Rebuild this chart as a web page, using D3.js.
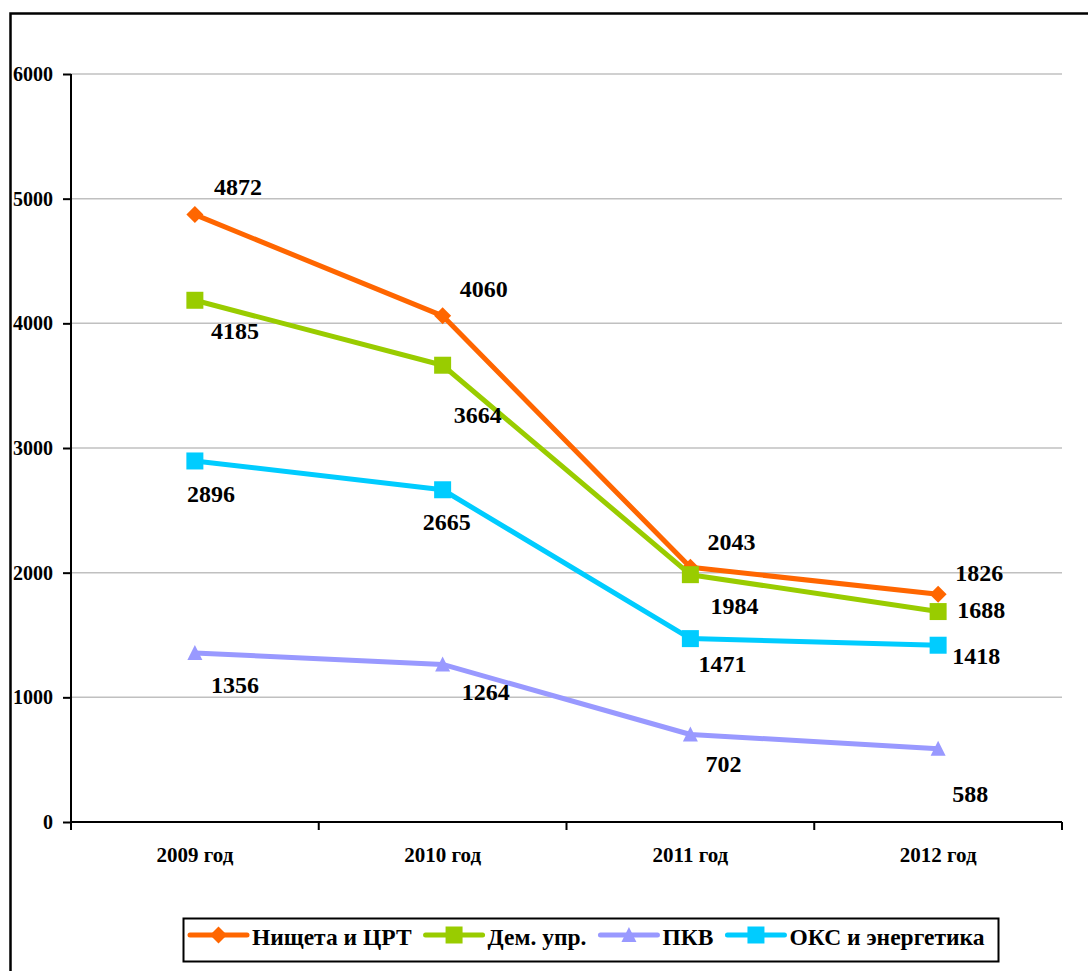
<!DOCTYPE html>
<html>
<head>
<meta charset="utf-8">
<script src="https://cdn.jsdelivr.net/npm/d3@7"></script>
<style>
  html, body { margin: 0; padding: 0; background: #fff; }
  svg { display: block; }
</style>
</head>
<body>
<div id="chart"></div>
<script>
// Data //
const years = ["2009 год", "2010 год", "2011 год", "2012 год"];
const poverty = [4872, 4060, 2043, 1826];   // Нищета и ЦРТ
const demGov = [4185, 3664, 1984, 1688];    // Дем. упр.
const pkv = [1356, 1264, 702, 588];         // ПКВ
const oks = [2896, 2665, 1471, 1418];       // ОКС и энергетика
const yTicks = [0, 1000, 2000, 3000, 4000, 5000, 6000];

const seriesNames = ["Нищета и ЦРТ", "Дем. упр.", "ПКВ", "ОКС и энергетика"];

// label nudges (px from the point), one per point
const labelNudge = {
    "Нищета и ЦРТ": [[43, -28], [41, -27], [41, -26], [41, -22]],
    "Дем. упр.": [[40, 30], [35, 49], [44, 31], [43, -2]],
    "ПКВ": [[40, 32], [43, 27], [33, 29], [32, 45]],
    "ОКС и энергетика": [[16, 33], [4, 32], [32, 25], [38, 10]]
};

const series = [
    { name: seriesNames[0], values: poverty, color: "#FF6600", marker: "diamond" },
    { name: seriesNames[1], values: demGov, color: "#99CC00", marker: "square" },
    { name: seriesNames[2], values: pkv, color: "#9999FF", marker: "triangle" },
    { name: seriesNames[3], values: oks, color: "#00CCFF", marker: "square" }
];

const FONT = "'Liberation Serif', 'Times New Roman', serif";

/* Canvas */
const W = 1088, H = 971;
const plot = { left: 71, right: 1062, top: 74, bottom: 822 };

const svg = d3.select("#chart").append("svg")
    .attr("width", W)
    .attr("height", H)
    .attr("font-family", FONT)
    .attr("font-weight", "bold");

// outer frame (runs off the right and bottom edge)
svg.append("rect")
    .attr("x", 10.5).attr("y", 13.5)
    .attr("width", 1100).attr("height", 1000)
    .attr("fill", "none")
    .attr("stroke", "#000")
    .attr("stroke-width", 2.5);

const xScale = d3.scaleBand()
    .domain(years)
    .range([plot.left, plot.right]);

const yScale = d3.scaleLinear()
    .domain([0, 6000])
    .range([plot.bottom, plot.top]);

const xc = d => xScale(d) + xScale.bandwidth() / 2;

/* Gridlines */
svg.append("g")
    .selectAll("line")
    .data(yTicks.filter(d => d > 0))
    .join("line")
    .attr("x1", plot.left).attr("x2", plot.right)
    .attr("y1", d => yScale(d)).attr("y2", d => yScale(d))
    .attr("stroke", "#C0C0C0")
    .attr("stroke-width", 1.5);

/* Vertical axis */
const yAxis = d3.axisLeft(yScale)
    .tickValues(yTicks)
    .tickSize(8)
    .tickPadding(10)
    .tickFormat(d3.format("d"));

const gy = svg.append("g")
    .attr("transform", `translate(${plot.left},0)`)
    .call(yAxis)
    .attr("font-family", FONT)
    .attr("font-size", 20);
gy.select(".domain").remove();
gy.selectAll(".tick line").attr("stroke", "#000").attr("stroke-width", 2);
gy.selectAll("text")
    .attr("font-family", FONT)
    .attr("font-weight", "bold")
    .attr("font-size", "20px")
    .attr("fill", "#000");

svg.append("line")
    .attr("x1", plot.left).attr("x2", plot.left)
    .attr("y1", plot.top).attr("y2", plot.bottom + 8)
    .attr("stroke", "#000").attr("stroke-width", 2);

/* Horizontal axis */
svg.append("line")
    .attr("x1", plot.left).attr("x2", plot.right)
    .attr("y1", plot.bottom).attr("y2", plot.bottom)
    .attr("stroke", "#000").attr("stroke-width", 2);

const bounds = years.map(d => xScale(d)).concat([plot.right]);
svg.append("g")
    .selectAll("line")
    .data(bounds)
    .join("line")
    .attr("x1", d => d).attr("x2", d => d)
    .attr("y1", plot.bottom).attr("y2", plot.bottom + 8)
    .attr("stroke", "#000").attr("stroke-width", 2);

svg.append("g")
    .selectAll("text")
    .data(years)
    .join("text")
    .attr("x", d => xc(d))
    .attr("y", 862)
    .attr("text-anchor", "middle")
    .attr("font-family", FONT)
    .attr("font-weight", "bold")
    .attr("font-size", "21px")
    .text(d => d);

/* Lines, markers */
const line = d3.line()
    .x((d, i) => xc(years[i]))
    .y(d => yScale(d));

function markerPath(type) {
    if (type === "diamond") return "M0,-8.5L8.5,0L0,8.5L-8.5,0Z";
    if (type === "square") return "M-8.5,-8.5H8.5V8.5H-8.5Z";
    return "M0,-8L7.5,7H-7.5Z";
}

series.forEach(s => {
    svg.append("path")
        .datum(s.values)
        .attr("d", line)
        .attr("fill", "none")
        .attr("stroke", s.color)
        .attr("stroke-width", 5)
        .attr("stroke-linejoin", "round");

    svg.append("g")
        .selectAll("path")
        .data(s.values)
        .join("path")
        .attr("transform", (d, i) => `translate(${xc(years[i])},${yScale(d)})`)
        .attr("d", markerPath(s.marker))
        .attr("fill", s.color);
});

/* Value labels */
series.forEach(s => {
    svg.append("g")
        .selectAll("text")
        .data(s.values)
        .join("text")
        .attr("x", (d, i) => xc(years[i]) + labelNudge[s.name][i][0])
        .attr("y", (d, i) => yScale(d) + labelNudge[s.name][i][1])
        .attr("dy", "0.35em")
        .attr("text-anchor", "middle")
        .attr("font-family", FONT)
        .attr("font-weight", "bold")
        .attr("font-size", "24px")
        .attr("fill", "#000")
        .text(d => d);
});

/* Legend */
const legend = svg.append("g");
legend.append("rect")
    .attr("x", 183.5).attr("y", 918.5)
    .attr("width", 815).attr("height", 43)
    .attr("fill", "#fff")
    .attr("stroke", "#000")
    .attr("stroke-width", 2);

let lx = 190;
const ly = 935;
series.forEach(s => {
    const item = legend.append("g").attr("transform", `translate(${lx},${ly})`);
    item.append("line")
        .attr("x1", 0).attr("x2", 57)
        .attr("stroke", s.color)
        .attr("stroke-width", 5)
        .attr("stroke-linecap", "round");
    item.append("path")
        .attr("transform", "translate(28.5,0)")
        .attr("d", markerPath(s.marker))
        .attr("fill", s.color);
    const t = item.append("text")
        .attr("x", 62)
        .attr("y", 10)
        .attr("font-family", FONT)
        .attr("font-weight", "bold")
        .attr("font-size", "23.5px")
        .attr("fill", "#000")
        .text(s.name);
    lx += 62 + t.node().getComputedTextLength() + 14;
});
</script>
</body>
</html>
